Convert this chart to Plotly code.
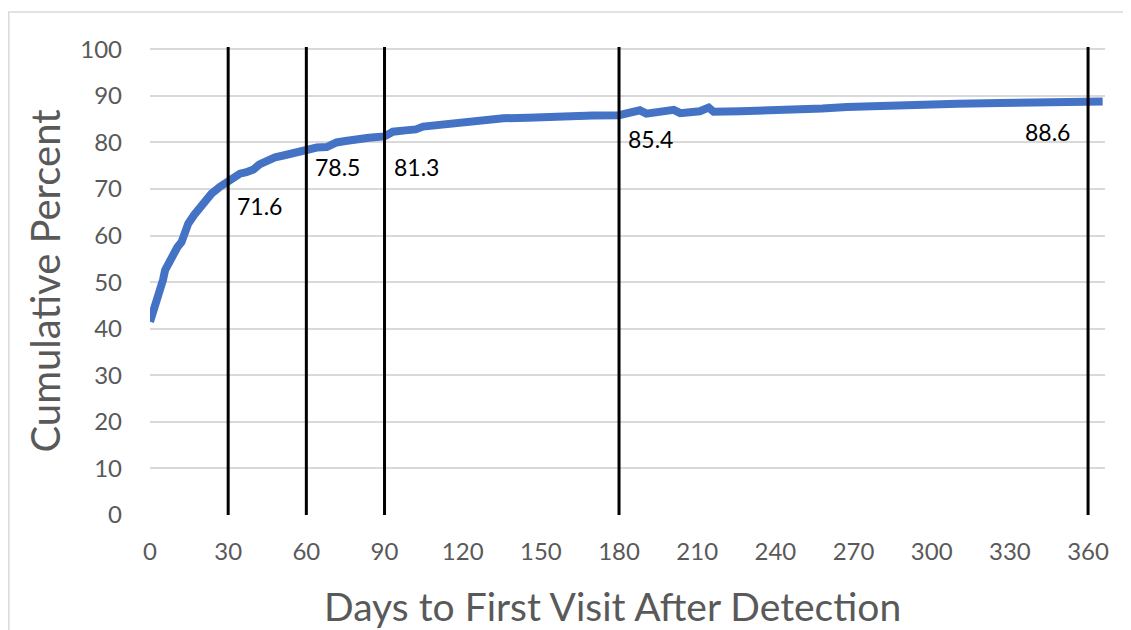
import plotly.graph_objects as go

# ---- data ----
days = [0, 0.6, 1.2, 2.5, 3.8, 5.0, 5.8, 7.5, 8.9, 10.5, 12.1, 13.5, 14.7, 17, 20.4,
        23.6, 26.9, 30, 34.5, 37, 39.7, 42, 44.8, 48, 51.2, 55, 60, 64, 67.8, 71.6,
        75, 79.3, 84, 90, 93.2, 98, 102, 104.8, 112, 119, 126.7, 135.6, 145, 152,
        161, 170, 180, 185, 188, 190.5, 196, 201, 203.5, 208.6, 211, 214.4, 216.3,
        226.6, 240, 249.7, 258, 267.5, 280, 293, 299.5, 310, 326.3, 340, 349.4,
        360, 365.6]
cum_percent = [41.5, 42.5, 44, 45.5, 47.6, 50.5, 52.6, 54.5, 56.2, 57.5, 58.6, 61,
               62.6, 64.5, 66.9, 69, 70.5, 71.6, 73.3, 73.6, 74.2, 75.3, 76.2, 76.8,
               77.2, 77.7, 78.5, 78.9, 79.0, 80.0, 80.3, 80.8, 81.0, 81.3, 82.3,
               82.6, 82.8, 83.4, 83.8, 84.3, 84.8, 85.2, 85.3, 85.5, 85.7, 85.8,
               85.85, 86.4, 86.9, 86.2, 86.5, 87.0, 86.3, 86.3, 86.7, 87.5, 86.6,
               86.7, 86.8, 87.0, 87.3, 87.6, 87.7, 87.8, 88.2, 88.3, 88.5, 88.7,
               88.9, 88.8, 88.8]

marker_days = [30, 60, 90, 180, 360]
marker_values = [71.6, 78.5, 81.3, 85.4, 88.6]
marker_labels = ["71.6", "78.5", "81.3", "85.4", "88.6"]

x_ticks = [0, 30, 60, 90, 120, 150, 180, 210, 240, 270, 300, 330, 360]
y_ticks = [0, 10, 20, 30, 40, 50, 60, 70, 80, 90, 100]

x_title = "Days to First Visit After Detection"
y_title = "Cumulative Percent"

# ---- styling ----
FONT = "Lato"
GRAY = "#595959"
label_offsets = [(7, -24, "left"), (7, -18, "left"), (7, -31, "left"),
                 (7, -22, "left"), (-16, -30, "right")]

fig = go.Figure()
fig.add_trace(go.Scatter(x=days, y=cum_percent, mode="lines",
                         line=dict(color="#4472C4", width=8),
                         showlegend=False, hoverinfo="x+y"))

for d in marker_days:
    fig.add_shape(type="line", xref="x", yref="y", x0=d, x1=d, y0=0, y1=100.5,
                  line=dict(color="black", width=3), layer="above")

for d, v, lab, (dx, dy, anc) in zip(marker_days, marker_values, marker_labels, label_offsets):
    fig.add_annotation(x=d, y=v, xref="x", yref="y", text=lab, showarrow=False,
                       xanchor=anc, yanchor="middle", xshift=dx, yshift=dy,
                       font=dict(family=FONT, size=23, color="black"))

# x-axis title (centred on the chart area, slightly left of the plot centre)
fig.add_annotation(x=0.4848, y=-0.1944, xref="paper", yref="paper", text=x_title,
                   showarrow=False, xanchor="center", yanchor="middle",
                   font=dict(family=FONT, size=39, color=GRAY))

# chart-area border (top and left edges visible)
fig.add_shape(type="rect", xref="paper", yref="paper",
              x0=(0.8 - 142) / 955, x1=1.2, y0=-0.5, y1=(507 - 4) / 468,
              line=dict(color="#D9D9D9", width=1.5), fillcolor="rgba(0,0,0,0)",
              layer="below")

fig.update_layout(
    width=1123, height=622,
    margin=dict(l=142, r=26, t=39, b=115),
    paper_bgcolor="white", plot_bgcolor="white",
    font=dict(family=FONT, color=GRAY),
)
fig.update_xaxes(range=[0, 366.5], tickvals=x_ticks, ticktext=[str(t) for t in x_ticks],
                 showgrid=False, zeroline=False, showline=False, automargin=False,
                 tickfont=dict(family=FONT, size=24, color=GRAY),
                 ticklabelstandoff=20)
fig.update_yaxes(range=[0, 100.5], tickvals=y_ticks, ticktext=[str(t) for t in y_ticks],
                 showgrid=True, gridcolor="#D9D9D9", gridwidth=1.5,
                 zeroline=False, showline=False, automargin=False,
                 tickfont=dict(family=FONT, size=24, color=GRAY),
                 ticklabelstandoff=27,
                 title=dict(text=y_title,
                            font=dict(family=FONT, size=40, color=GRAY), standoff=7))

fig.write_html("out.html")
